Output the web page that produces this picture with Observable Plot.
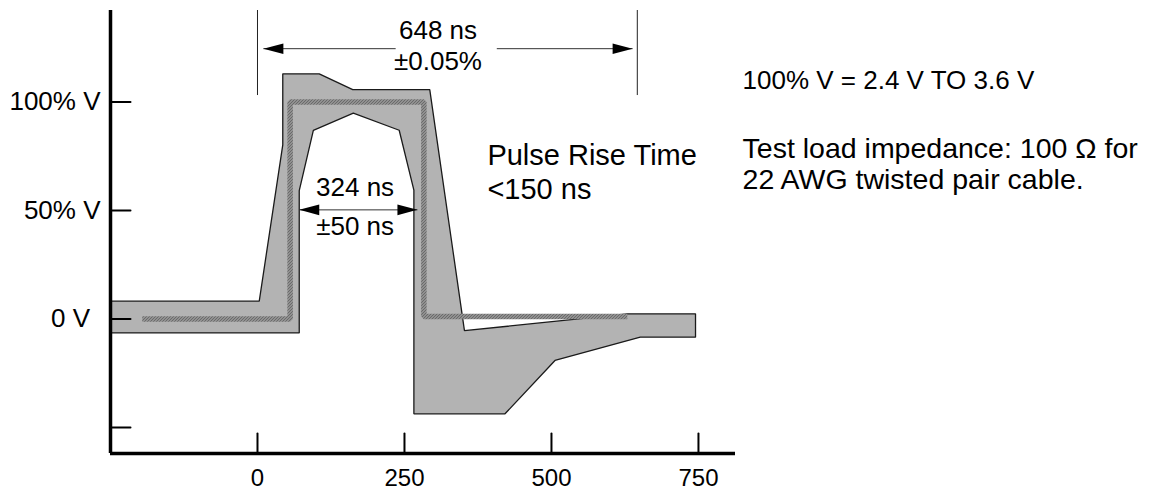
<!DOCTYPE html>
<html>
<head>
<meta charset="utf-8">
<script src="https://cdn.jsdelivr.net/npm/d3@7"></script>
<script src="https://cdn.jsdelivr.net/npm/@observablehq/plot@0.6"></script>
<style>
  html, body { margin: 0; padding: 0; background: #fff; }
  #chart { width: 1156px; height: 491px; }
</style>
</head>
<body>
<div id="chart"></div>
<script>
// ---- axes ----
const xDomain = [-250, 813];
const yDomain = [-62, 142.2];
const xTicks = [0, 250, 500, 750];
const yTicks = [-50, 0, 50, 100];
const yTickLabels = ["", "0 V\u2009\u2009", "50% V", "100% V"];

// ---- tolerance mask (time ns, % of V) ----
const maskT = [-250, 3, 43, 43, 105, 162, 293, 352, 629, 745, 745, 651, 506, 421, 266, 266, 241, 163, 95, 71, 71, -250];
const maskV = [8.2, 8.2, 80.3, 113, 113, 105.7, 105.7, -5.4, 2.4, 2.4, -8.4, -8.4, -19.1, -43.7, -43.7, 59.4, 87, 94.9, 86.9, 59.2, -6.4, -6.4];

// ---- ideal pulse (hatched) ----
const idealT = [-196, 55.5, 55.5, 283, 283, 629];
const idealV = [0, 0, 100, 100, 1.1, 1.1];

// ---- dimension lines ----
const extT = [0, 646];
const extV = [103, 142.2];
const outerArrows = [{x1: 235, x2: 10, y: 124.6}, {x1: 407, x2: 638, y: 124.6}];
const innerArrow = [{x1: 71, x2: 272, y: 50.3}];

// ---- text ----
const dimLabels = ["648 ns", "±0.05%", "324 ns", "±50 ns"];
const dimT = [307, 307, 166, 166];
const dimV = [129.2, 114.8, 56.9, 38.5];
const riseLabels = ["Pulse Rise Time", "<150 ns"];
const riseT = [391, 391];
const riseV = [71.2, 55.4];
const noteLabels = ["100% V = 2.4 V TO 3.6 V"];
const noteT = [825];
const noteV = [105.8];
const loadLabels = ["Test load impedance: 100 \u03A9 for", "22 AWG twisted pair cable."];
const loadT = [825, 825];
const loadV = [74.3, 59.8];

const mask = maskT.map((t, i) => ({t, v: maskV[i]}));
const ideal = idealT.map((t, i) => ({t, v: idealV[i]}));
const zipText = (labels, T, V) => labels.map((s, i) => ({s, t: T[i], v: V[i]}));
const dimText = zipText(dimLabels, dimT, dimV);
const riseText = zipText(riseLabels, riseT, riseV);
const noteText = zipText(noteLabels, noteT, noteV);
const loadText = zipText(loadLabels, loadT, loadV);

const tickUp = {draw(ctx, l) { ctx.moveTo(0, 0); ctx.lineTo(0, -l); }};
const tickRight = {draw(ctx, l) { ctx.moveTo(0, 0); ctx.lineTo(l, 0); }};

function arrowHead(len, half) {
  return (color, context) => {
    const ns = "http://www.w3.org/2000/svg";
    const m = context.document.createElementNS(ns, "marker");
    m.setAttribute("viewBox", `${-len - 1} ${-half - 1} ${len + 2} ${2 * half + 2}`);
    m.setAttribute("markerWidth", len + 2);
    m.setAttribute("markerHeight", 2 * half + 2);
    m.setAttribute("markerUnits", "userSpaceOnUse");
    m.setAttribute("orient", "auto-start-reverse");
    m.setAttribute("refX", 0);
    m.setAttribute("refY", 0);
    m.setAttribute("overflow", "visible");
    const p = context.document.createElementNS(ns, "path");
    p.setAttribute("d", `M0,0L${-len},${-half}L${-len},${half}Z`);
    p.setAttribute("fill", "#000");
    p.setAttribute("stroke", "none");
    m.appendChild(p);
    return m;
  };
}
const bigHead = arrowHead(20, 5.3);

const font = "'Liberation Sans', Arial, Helvetica, sans-serif";

const svg = Plot.plot({
  width: 1156,
  height: 491,
  marginLeft: 110,
  marginRight: 421,
  marginTop: 10,
  marginBottom: 38,
  x: {domain: xDomain},
  y: {domain: yDomain},
  style: {background: "#fff", color: "#000", fontFamily: font, fontSize: "26px", overflow: "visible"},
  marks: [
    Plot.line(mask, {x: "t", y: "v", fill: "#b3b3b3", stroke: "#1a1a1a", strokeWidth: 1.3, curve: "linear-closed", strokeLinejoin: "miter"}),
    Plot.line(ideal, {x: "t", y: "v", stroke: "url(#hatch)", strokeWidth: 5.5, strokeLinejoin: "miter", strokeLinecap: "butt"}),
    Plot.ruleX(extT, {x: d => d, y1: extV[0], y2: extV[1], stroke: "#222", strokeWidth: 1}),
    Plot.link(outerArrows, {x1: "x1", x2: "x2", y1: "y", y2: "y", stroke: "#333", strokeWidth: 1, markerEnd: bigHead}),
    Plot.link(innerArrow, {x1: "x1", x2: "x2", y1: "y", y2: "y", stroke: "#333", strokeWidth: 1, markerStart: bigHead, markerEnd: bigHead}),
    Plot.text(dimText, {x: "t", y: "v", text: "s", textAnchor: "middle", lineAnchor: "bottom", fill: "#000", fontSize: 26}),
    Plot.text(riseText, {x: "t", y: "v", text: "s", textAnchor: "start", lineAnchor: "bottom", fill: "#000", fontSize: 29}),
    Plot.text(noteText, {x: "t", y: "v", text: "s", textAnchor: "start", lineAnchor: "bottom", fill: "#000", fontSize: 26}),
    Plot.text(loadText, {x: "t", y: "v", text: "s", textAnchor: "start", lineAnchor: "bottom", fill: "#000", fontSize: 28.5}),
    // axes
    Plot.ruleX([xDomain[0]], {strokeWidth: 3.5, stroke: "#000"}),
    Plot.ruleY([yDomain[0]], {strokeWidth: 3.5, stroke: "#000"}),
    Plot.vector(xTicks, {x: d => d, y: yDomain[0], length: 20, shape: tickUp, anchor: "start", stroke: "#000", strokeWidth: 2}),
    Plot.vector(yTicks, {x: xDomain[0], y: d => d, length: 20, shape: tickRight, anchor: "start", stroke: "#000", strokeWidth: 2}),
    Plot.axisX(xTicks, {tickSize: 0, tickPadding: 15, tickFormat: d => String(d), fill: "#000", fontSize: 24}),
    Plot.axisY(yTicks, {tickSize: 0, tickPadding: 10, tickFormat: d => yTickLabels[yTicks.indexOf(d)], fill: "#000", fontSize: 26})
  ]
});

// hatch pattern for the ideal pulse band
const NS = "http://www.w3.org/2000/svg";
const defs = document.createElementNS(NS, "defs");
defs.innerHTML = `<pattern id="hatch" patternUnits="userSpaceOnUse" width="3" height="3">
  <rect width="3" height="3" fill="#fafafa"></rect>
  <path d="M-1,1L1,-1M0,3L3,0M2,4L4,2" stroke="#111" stroke-width="1.1"></path>
</pattern>`;
svg.insertBefore(defs, svg.firstChild);

document.getElementById("chart").appendChild(svg);
</script>
</body>
</html>
